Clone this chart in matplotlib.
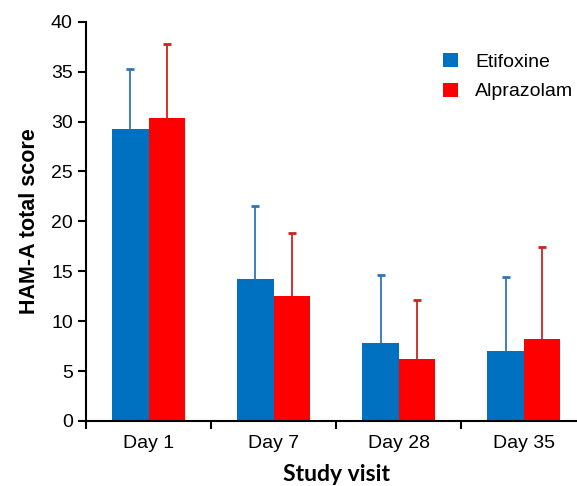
import matplotlib.pyplot as plt
import numpy as np

plt.rcParams['font.family'] = ['Liberation Sans', 'DejaVu Sans']

visits = ["Day 1", "Day 7", "Day 28", "Day 35"]
etifoxine = [29.3, 14.2, 7.8, 7.0]
etifoxine_sd = [6.0, 7.3, 6.8, 7.4]
alprazolam = [30.4, 12.5, 6.2, 8.2]
alprazolam_sd = [7.4, 6.3, 5.9, 9.2]

fig = plt.figure(figsize=(5.77, 4.86), dpi=100)
ax = fig.add_axes([0.149, 0.134, 0.867, 0.821])

x = np.arange(len(visits))
w = 0.29

def bars_with_sd(xpos, vals, sd, color, ecolor, label):
    vals = np.array(vals)
    tops = vals + np.array(sd)
    ax.vlines(xpos, vals, tops, color=ecolor, lw=1.3, zorder=1)
    ax.plot(xpos, tops, ls="none", marker="_", ms=6, mew=2, color=ecolor, zorder=1)
    ax.bar(xpos, vals, w, color=color, label=label, zorder=2)

bars_with_sd(x - w / 2, etifoxine, etifoxine_sd, "#0070C0", "#2E75B6", "Etifoxine")
bars_with_sd(x + w / 2, alprazolam, alprazolam_sd, "#FF0000", "#D02020", "Alprazolam")

ax.set_xlim(-0.5, 3.5)
ax.set_ylim(0, 40)
ax.set_yticks(range(0, 41, 5))
ax.set_xticks(x)
ax.set_xticklabels(visits, fontsize=14)
ax.set_xticks(np.arange(-0.5, 3.6, 1), minor=True)
ax.tick_params(axis="x", which="major", length=0, pad=10)
ax.tick_params(axis="x", which="minor", length=6, width=1.5, direction="out")
ax.tick_params(axis="y", labelsize=14, length=6, width=1.5, direction="out")

for s in ["top", "right"]:
    ax.spines[s].set_visible(False)
for s in ["left", "bottom"]:
    ax.spines[s].set_linewidth(1.5)

ax.set_ylabel("HAM-A total score", fontsize=15.5, fontweight="bold", labelpad=8)
ax.set_xlabel("Study visit", fontsize=16.5, fontweight="bold", family=["Lato", "DejaVu Sans"], labelpad=9)

ax.legend(loc="upper left", bbox_to_anchor=(0.738, 0.927), bbox_transform=fig.transFigure,
          frameon=False, fontsize=14, handlelength=0.75, handleheight=0.75,
          handletextpad=0.9, labelspacing=0.6)

fig.savefig("out.png", dpi=100)
